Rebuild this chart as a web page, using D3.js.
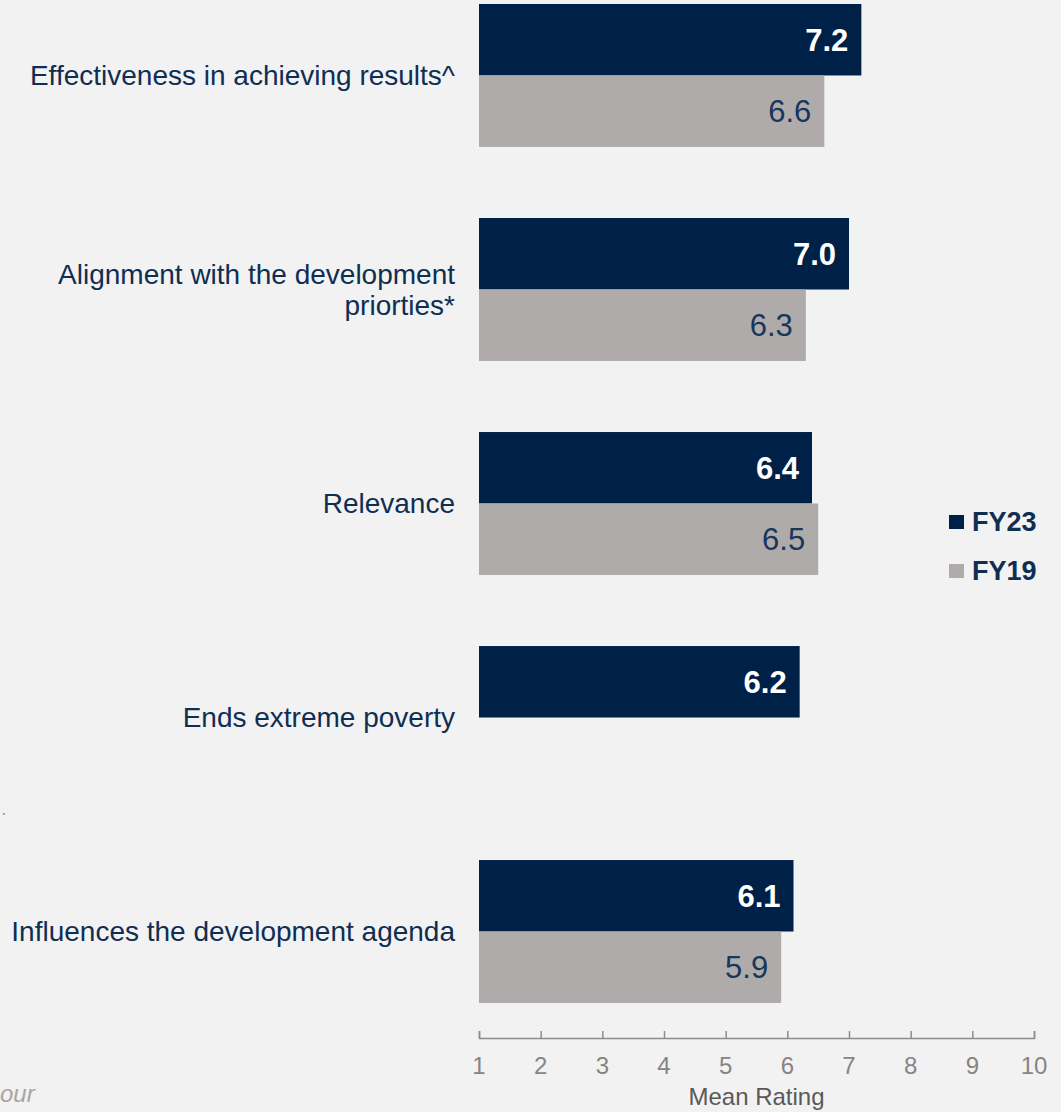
<!DOCTYPE html>
<html>
<head>
<meta charset="utf-8">
<script src="https://cdn.jsdelivr.net/npm/d3@7"></script>
<style>
  html, body { margin: 0; padding: 0; background: #f2f2f2; }
  svg { display: block; font-family: "Liberation Sans", Arial, sans-serif; }
</style>
</head>
<body>
<div id="chart"></div>
<script>
// chart data
const categories = [
  ["Effectiveness in achieving results^"],
  ["Alignment with the development", "priorties*"],
  ["Relevance"],
  ["Ends extreme poverty"],
  ["Influences the development agenda"]
];
const seriesNames = ["FY23", "FY19"];
const fy23 = [7.2, 7.0, 6.4, 6.2, 6.1];
const fy19 = [6.6, 6.3, 6.5, null, 5.9];
const xTicks = [1, 2, 3, 4, 5, 6, 7, 8, 9, 10];

const colors = { FY23: "#002147", FY19: "#afabaa" };
const textColor = "#0f2e52";

function drawChart() {
  const width = 1061, height = 1112;
  const svg = d3.select("#chart").append("svg")
    .attr("width", width)
    .attr("height", height);

  svg.append("rect").attr("width", width).attr("height", height).attr("fill", "#f2f2f2");

  const x = d3.scaleLinear().domain([1, 10]).range([479, 1034]);

  const keys = categories.map((c, i) => i);
  const y = d3.scaleBand().domain(keys).range([4, 1003]).paddingInner(0.332).paddingOuter(0);
  const ySub = d3.scaleBand().domain(seriesNames).range([0, y.bandwidth()]);

  const rows = keys.map(i => ({ i, FY23: fy23[i], FY19: fy19[i] }));

  const groups = svg.selectAll("g.grp").data(rows).enter().append("g")
    .attr("class", "grp")
    .attr("transform", d => `translate(0,${y(d.i)})`);

  seriesNames.forEach(s => {
    const withVal = groups.filter(d => d[s] != null);
    withVal.append("rect")
      .attr("x", x(1))
      .attr("y", ySub(s))
      .attr("width", d => x(d[s]) - x(1))
      .attr("height", ySub.bandwidth())
      .attr("fill", colors[s]);
    withVal.append("text")
      .attr("x", d => x(d[s]) - 13)
      .attr("y", ySub(s) + ySub.bandwidth() / 2)
      .attr("dy", "0.35em")
      .attr("text-anchor", "end")
      .attr("font-size", 31)
      .attr("font-weight", s === "FY23" ? "bold" : "normal")
      .attr("fill", s === "FY23" ? "#ffffff" : "#17365d")
      .text(d => d[s].toFixed(1));
  });

  // category labels
  const lineH = 31;
  svg.selectAll("text.cat").data(rows).enter().append("text")
    .attr("class", "cat")
    .attr("text-anchor", "end")
    .attr("font-size", 28)
    .attr("fill", textColor)
    .each(function (d) {
      const lines = categories[d.i];
      const cy = y(d.i) + y.bandwidth() / 2;
      const t = d3.select(this);
      lines.forEach((ln, k) => {
        t.append("tspan")
          .attr("x", 455)
          .attr("y", cy + (k - (lines.length - 1) / 2) * lineH)
          .attr("dy", "0.35em")
          .text(ln);
      });
    });

  // x axis
  const axisY = 1038;
  const axis = svg.append("g")
    .attr("transform", `translate(0,${axisY})`)
    .call(d3.axisTop(x).tickValues(xTicks).tickSize(7).tickSizeOuter(7).tickFormat(""));
  axis.select(".domain").attr("stroke", "#8c8c8c").attr("stroke-width", 1.5);
  axis.selectAll(".tick line").attr("stroke", "#8c8c8c").attr("stroke-width", 1.5);

  svg.append("g").selectAll("text").data(xTicks).enter().append("text")
    .attr("x", d => x(d))
    .attr("y", 1074)
    .attr("text-anchor", "middle")
    .attr("font-size", 24)
    .attr("fill", "#858585")
    .text(d => d);

  svg.append("text")
    .attr("x", (x(1) + x(10)) / 2)
    .attr("y", 1105)
    .attr("text-anchor", "middle")
    .attr("font-size", 24)
    .attr("fill", "#595959")
    .text("Mean Rating");

  // legend
  const legend = svg.append("g").attr("transform", "translate(949,522)");
  seriesNames.forEach((s, k) => {
    const g = legend.append("g").attr("transform", `translate(0,${k * 49})`);
    g.append("rect").attr("x", 0).attr("y", -7).attr("width", 15).attr("height", 14).attr("fill", colors[s]);
    g.append("text")
      .attr("x", 23).attr("y", 0).attr("dy", "0.35em")
      .attr("font-size", 27).attr("font-weight", "bold")
      .attr("fill", "#0f2e52")
      .text(s);
  });

  // cropped footnote fragments at left edge
  svg.append("text").attr("x", 1).attr("y", 815)
    .attr("font-size", 20).attr("fill", "#a6a6a6").text(".");
  svg.append("text").attr("x", 0).attr("y", 1102)
    .attr("font-size", 24).attr("font-style", "italic").attr("fill", "#a6a6a6").text("our");
}

drawChart();
</script>
</body>
</html>
